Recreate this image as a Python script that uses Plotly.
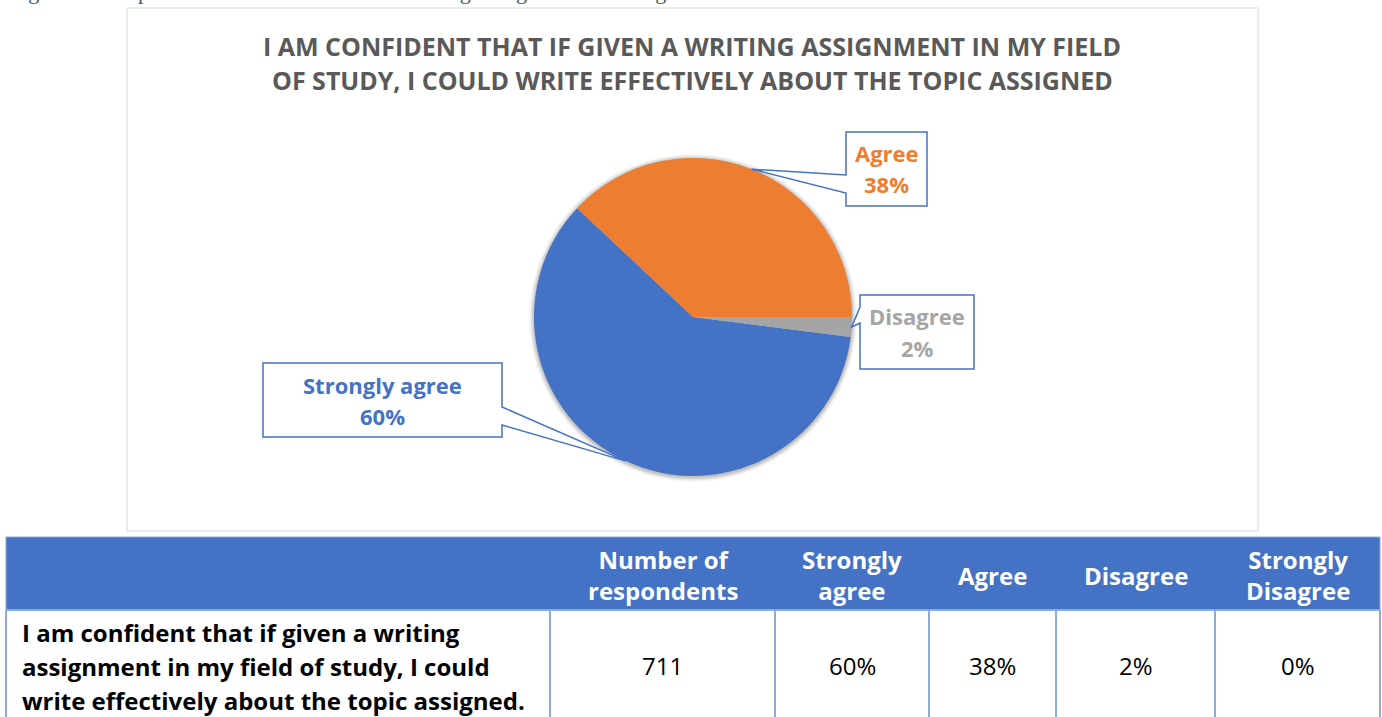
import math
import plotly.graph_objects as go

W, H = 1382, 717

# ---- data ----
categories = ["Strongly agree", "Agree", "Disagree", "Strongly Disagree"]
shares = [60, 38, 2, 0]
respondents = 711
slice_colors = ["#4472C4", "#ED7D31", "#A5A5A5", "#FFC000"]

chart_title_lines = [
    "I AM CONFIDENT THAT IF GIVEN A WRITING ASSIGNMENT IN MY FIELD",
    "OF STUDY, I COULD WRITE EFFECTIVELY ABOUT THE TOPIC ASSIGNED",
]
statement_lines = [
    "I am confident that if given a writing",
    "assignment in my field of study, I could",
    "write effectively about the topic assigned.",
]
header_labels = ["Number of<br>respondents", "Strongly<br>agree", "Agree",
                 "Disagree", "Strongly<br>Disagree"]
caption = "Figure 11. Respondents' statement of confidence regarding in-field writing."

FONT = "Open Sans"


def fx(px):
    return px / W


def fy(py):
    return 1 - py / H


# ---- pie geometry (pixels) ----
CX, CY, R = 693, 317, 159
ROTATION = 97.2

fig = go.Figure()

fig.add_trace(go.Pie(
    labels=categories,
    values=shares,
    sort=False,
    direction="clockwise",
    rotation=ROTATION,
    marker=dict(colors=slice_colors, line=dict(width=0)),
    textinfo="none",
    showlegend=False,
    domain=dict(x=[fx(CX - R), fx(CX + R)], y=[fy(CY + R), fy(CY - R)]),
))

shapes = []
annotations = []

# chart area frame
shapes.append(dict(type="rect", xref="paper", yref="paper",
                   x0=fx(127), x1=fx(1258), y0=fy(531), y1=fy(8),
                   line=dict(color="#D9D9D9", width=1), fillcolor="white",
                   layer="below"))

# soft shadow under the pie
for k, a in [(5, 0.03), (4, 0.04), (3, 0.05), (2, 0.06), (1, 0.08)]:
    shapes.append(dict(type="circle", xref="paper", yref="paper",
                       x0=fx(CX - R - k), x1=fx(CX + R + k),
                       y0=fy(CY + R + k + 1), y1=fy(CY - R - k + 1),
                       line=dict(width=0), fillcolor=f"rgba(0,0,0,{a})",
                       layer="below"))

# title
for i, line in enumerate(chart_title_lines):
    annotations.append(dict(xref="paper", yref="paper", x=fx(692), y=fy(46 + 34 * i),
                            xanchor="center", yanchor="middle", showarrow=False,
                            text=f"<b>{line}</b>",
                            font=dict(family=FONT, size=25, color="#595959")))

# slice mid-angle points on the rim (leader tips)
total = sum(shares)
angle = ROTATION
tips = {}
for lab, v in zip(categories, shares):
    span = 360.0 * v / total
    mid = math.radians(angle + span / 2)
    tips[lab] = (CX + R * math.sin(mid), CY - R * math.cos(mid))
    angle += span

# callout boxes: (x0, y0, x1, y1), side of the pointer, pointer base span
callouts = {
    "Agree": ((846, 132, 927, 206), "left", (175, 193)),
    "Disagree": ((860, 295, 974, 369), "left", (307, 323)),
    "Strongly agree": ((263, 363, 502, 437), "right", (407, 425)),
}


def path_from(points):
    return "M " + " L ".join(f"{fx(x):.6f},{fy(y):.6f}" for x, y in points) + " Z"


for lab, v, col in zip(categories, shares, slice_colors):
    if lab not in callouts:
        continue
    (x0, y0, x1, y1), side, (b0, b1) = callouts[lab]
    tx, ty = tips[lab]
    if side == "left":
        pts = [(x0, y0), (x1, y0), (x1, y1), (x0, y1), (x0, b1), (tx, ty), (x0, b0)]
    else:
        pts = [(x0, y0), (x1, y0), (x1, b0), (tx, ty), (x1, b1), (x1, y1), (x0, y1)]
    shapes.append(dict(type="path", xref="paper", yref="paper", path=path_from(pts),
                       fillcolor="white", line=dict(color="#4472C4", width=1.5)))
    xc = (x0 + x1) / 2
    yc = (y0 + y1) / 2
    for text, dy in [(lab, -15.5), (f"{v}%", 15.5)]:
        annotations.append(dict(xref="paper", yref="paper", x=fx(xc), y=fy(yc + dy),
                                xanchor="center", yanchor="middle", showarrow=False,
                                text=f"<b>{text}</b>",
                                font=dict(family=FONT, size=22, color=col)))

# caption above the chart (mostly cut by the page edge)
annotations.append(dict(xref="paper", yref="paper", x=fx(8), y=fy(6),
                        xanchor="left", yanchor="bottom", showarrow=False,
                        text=caption,
                        font=dict(family="Liberation Serif", size=22, color="#44546A")))

# ---- table ----
col_edges = [6, 550, 775, 929, 1056, 1215, 1380]
HEAD_TOP, HEAD_BOT, ROW_BOT = 537, 610, 730
GRID = "#8EAADB"

shapes.append(dict(type="rect", xref="paper", yref="paper",
                   x0=fx(col_edges[0]), x1=fx(col_edges[-1]),
                   y0=fy(HEAD_BOT), y1=fy(HEAD_TOP),
                   fillcolor="#4472C4", line=dict(color=GRID, width=1)))
shapes.append(dict(type="line", xref="paper", yref="paper",
                   x0=fx(col_edges[0]), x1=fx(col_edges[-1]),
                   y0=fy(HEAD_BOT), y1=fy(HEAD_BOT),
                   line=dict(color=GRID, width=2)))
for xe in col_edges:
    shapes.append(dict(type="line", xref="paper", yref="paper",
                       x0=fx(xe), x1=fx(xe), y0=fy(ROW_BOT), y1=fy(HEAD_BOT),
                       line=dict(color=GRID, width=2)))

row_values = [str(respondents)] + [f"{v}%" for v in shares]
for i, (hl, val) in enumerate(zip(header_labels, row_values)):
    xc = (col_edges[i + 1] + col_edges[i + 2]) / 2
    annotations.append(dict(xref="paper", yref="paper", x=fx(xc), y=fy(575),
                            xanchor="center", yanchor="middle", showarrow=False,
                            text=f"<b>{hl}</b>",
                            font=dict(family=FONT, size=24, color="white")))
    annotations.append(dict(xref="paper", yref="paper", x=fx(xc), y=fy(665),
                            xanchor="center", yanchor="middle", showarrow=False,
                            text=val,
                            font=dict(family=FONT, size=24, color="black")))

for i, line in enumerate(statement_lines):
    annotations.append(dict(xref="paper", yref="paper", x=fx(20), y=fy(632 + 34 * i),
                            xanchor="left", yanchor="middle", showarrow=False,
                            text=f"<b>{line}</b>",
                            font=dict(family=FONT, size=24, color="black")))

fig.update_layout(
    width=W, height=H,
    margin=dict(l=0, r=0, t=0, b=0),
    paper_bgcolor="white",
    plot_bgcolor="white",
    shapes=shapes,
    annotations=annotations,
)

fig.write_html("out.html")
